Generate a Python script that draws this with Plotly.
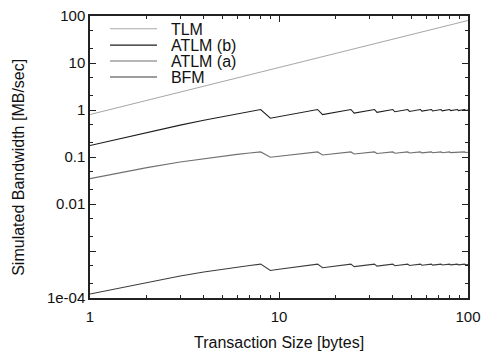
import plotly.graph_objects as go

# Transaction sizes in bytes
sizes = list(range(1, 101))

# Simulated bandwidth [MB/sec] per transaction size
tlm = [0.8, 1.6, 2.4, 3.2, 4.0, 4.8, 5.6, 6.4, 7.2, 8.0,
       8.8, 9.6, 10.4, 11.2, 12.0, 12.8, 13.6, 14.4, 15.2, 16.0,
       16.8, 17.6, 18.4, 19.2, 20.0, 20.8, 21.6, 22.4, 23.2, 24.0,
       24.8, 25.6, 26.4, 27.2, 28.0, 28.8, 29.6, 30.4, 31.2, 32.0,
       32.8, 33.6, 34.4, 35.2, 36.0, 36.8, 37.6, 38.4, 39.2, 40.0,
       40.8, 41.6, 42.4, 43.2, 44.0, 44.8, 45.6, 46.4, 47.2, 48.0,
       48.8, 49.6, 50.4, 51.2, 52.0, 52.8, 53.6, 54.4, 55.2, 56.0,
       56.8, 57.6, 58.4, 59.2, 60.0, 60.8, 61.6, 62.4, 63.2, 64.0,
       64.8, 65.6, 66.4, 67.2, 68.0, 68.8, 69.6, 70.4, 71.2, 72.0,
       72.8, 73.6, 74.4, 75.2, 76.0, 76.8, 77.6, 78.4, 79.2, 80.0]

atlm_b = [0.175, 0.333, 0.476, 0.606, 0.725, 0.833, 0.933, 1.026,
          0.667, 0.725, 0.780, 0.833, 0.884, 0.933, 0.980, 1.026,
          0.798, 0.833, 0.868, 0.901, 0.933, 0.965, 0.996, 1.026,
          0.859, 0.884, 0.909, 0.933, 0.957, 0.980, 1.003, 1.026,
          0.894, 0.914, 0.933, 0.952, 0.971, 0.990, 1.008, 1.026,
          0.917, 0.933, 0.949, 0.965, 0.980, 0.996, 1.011, 1.026,
          0.933, 0.947, 0.960, 0.974, 0.987, 1.000, 1.013, 1.026,
          0.945, 0.957, 0.969, 0.980, 0.992, 1.003, 1.014, 1.026,
          0.954, 0.965, 0.975, 0.986, 0.996, 1.006, 1.016, 1.026,
          0.962, 0.971, 0.980, 0.990, 0.999, 1.008, 1.017, 1.026,
          0.968, 0.976, 0.985, 0.993, 1.001, 1.009, 1.018, 1.026,
          0.973, 0.980, 0.988, 0.996, 1.003, 1.011, 1.018, 1.026,
          0.977, 0.984, 0.991, 0.998]

atlm_a = [0.0347, 0.0595, 0.0781, 0.0926, 0.1042, 0.1136, 0.1215, 0.1282,
          0.0987, 0.1042, 0.1091, 0.1136, 0.1177, 0.1215, 0.1250, 0.1282,
          0.1107, 0.1136, 0.1164, 0.1190, 0.1215, 0.1239, 0.1261, 0.1282,
          0.1157, 0.1177, 0.1197, 0.1215, 0.1233, 0.1250, 0.1266, 0.1282,
          0.1185, 0.1200, 0.1215, 0.1229, 0.1243, 0.1256, 0.1269, 0.1282,
          0.1203, 0.1215, 0.1227, 0.1239, 0.1250, 0.1261, 0.1271, 0.1282,
          0.1215, 0.1225, 0.1235, 0.1245, 0.1255, 0.1264, 0.1273, 0.1282,
          0.1224, 0.1233, 0.1241, 0.1250, 0.1258, 0.1266, 0.1274, 0.1282,
          0.1231, 0.1239, 0.1246, 0.1253, 0.1261, 0.1268, 0.1275, 0.1282,
          0.1236, 0.1243, 0.1250, 0.1256, 0.1263, 0.1269, 0.1276, 0.1282,
          0.1241, 0.1247, 0.1253, 0.1259, 0.1265, 0.1270, 0.1276, 0.1282,
          0.1244, 0.1250, 0.1255, 0.1261, 0.1266, 0.1271, 0.1277, 0.1282,
          0.1247, 0.1252, 0.1257, 0.1262]

# BFM bandwidth in units of 1e-4 MB/sec
bfm_e4 = [1.22, 2.17, 2.94, 3.57, 4.10, 4.55, 4.93, 5.26,
          3.85, 4.10, 4.33, 4.55, 4.74, 4.93, 5.10, 5.26,
          4.40, 4.55, 4.68, 4.81, 4.93, 5.05, 5.16, 5.26,
          4.65, 4.74, 4.84, 4.93, 5.02, 5.10, 5.18, 5.26,
          4.78, 4.86, 4.93, 5.00, 5.07, 5.14, 5.20, 5.26,
          4.87, 4.93, 4.99, 5.05, 5.10, 5.16, 5.21, 5.26,
          4.93, 4.98, 5.03, 5.08, 5.13, 5.17, 5.22, 5.26,
          4.97, 5.02, 5.06, 5.10, 5.14, 5.18, 5.22, 5.26,
          5.01, 5.05, 5.08, 5.12, 5.16, 5.19, 5.23, 5.26,
          5.03, 5.07, 5.10, 5.14, 5.17, 5.20, 5.23, 5.26,
          5.06, 5.09, 5.12, 5.15, 5.18, 5.21, 5.23, 5.26,
          5.07, 5.10, 5.13, 5.16, 5.18, 5.21, 5.24, 5.26,
          5.09, 5.11, 5.14, 5.17]
bfm = [v * 1e-4 for v in bfm_e4]

y_tickvals = [1e-4, 1e-3, 1e-2, 1e-1, 1, 10, 100]
y_ticktext = ["1e-04", "", "0.01", "0.1", "1", "10", "100"]
x_tickvals = [1, 10, 100]
x_ticktext = ["1", "10", "100"]

# name, values, colour, legend id, legend row position (paper y)
series = [
    ("TLM", tlm, "#a8a8a8", "legend", 0.9546),
    ("ATLM (b)", atlm_b, "#1e1e1e", "legend2", 0.8962),
    ("ATLM (a)", atlm_a, "#707070", "legend3", 0.8402),
    ("BFM", bfm, "#3c3c3c", "legend4", 0.7832),
]

font = "Liberation Sans, Arial, sans-serif"
pad = "\u00a0\u00a0"

fig = go.Figure()
legends = {}
for name, vals, color, leg, ly in series:
    fig.add_trace(go.Scatter(x=sizes, y=vals, mode="lines", name=pad + name,
                             legend=leg, showlegend=True,
                             line=dict(color=color, width=1.1)))
    legends[leg] = dict(x=0.0397, y=ly, xanchor="left", yanchor="middle",
                        bgcolor="rgba(0,0,0,0)", itemwidth=47,
                        font=dict(family=font, size=16, color="#111"))

x_minor = [m * d for d in (1, 10) for m in range(2, 10)]
y_minor = [m * 10.0 ** e for e in range(-4, 2) for m in (2, 5)]

axis_common = dict(
    type="log", showgrid=False, zeroline=False, automargin=False,
    showline=True, linecolor="#222", linewidth=1.5, mirror="ticks",
    ticks="inside", ticklen=6, tickwidth=1, tickcolor="#222",
    tickfont=dict(family=font, size=15, color="#111"),
)

fig.update_xaxes(
    **axis_common, range=[0, 2],
    tickvals=x_tickvals, ticktext=x_ticktext, ticklabelstandoff=4,
    minor=dict(tickvals=x_minor, ticks="inside", ticklen=3, tickcolor="#222"),
)
fig.update_yaxes(
    **axis_common, range=[-4, 2],
    tickvals=y_tickvals, ticktext=y_ticktext,
    minor=dict(tickvals=y_minor, ticks="inside", ticklen=3, tickcolor="#222"),
)

title_font = dict(family=font, size=16, color="#111")
fig.add_annotation(
    text="Transaction Size [bytes]",
    xref="paper", yref="paper", x=0.5, y=-0.157,
    xanchor="center", yanchor="middle", showarrow=False, font=title_font,
)
fig.add_annotation(
    text="Simulated Bandwidth [MB/sec]", textangle=-90,
    xref="paper", yref="paper", x=-0.188, y=0.465,
    xanchor="center", yanchor="middle", showarrow=False, font=title_font,
)

fig.update_layout(
    width=483, height=354,
    margin=dict(l=90, r=15, t=12, b=56),
    paper_bgcolor="white", plot_bgcolor="white",
    showlegend=True,
    **legends,
)

fig.write_html("out.html")
